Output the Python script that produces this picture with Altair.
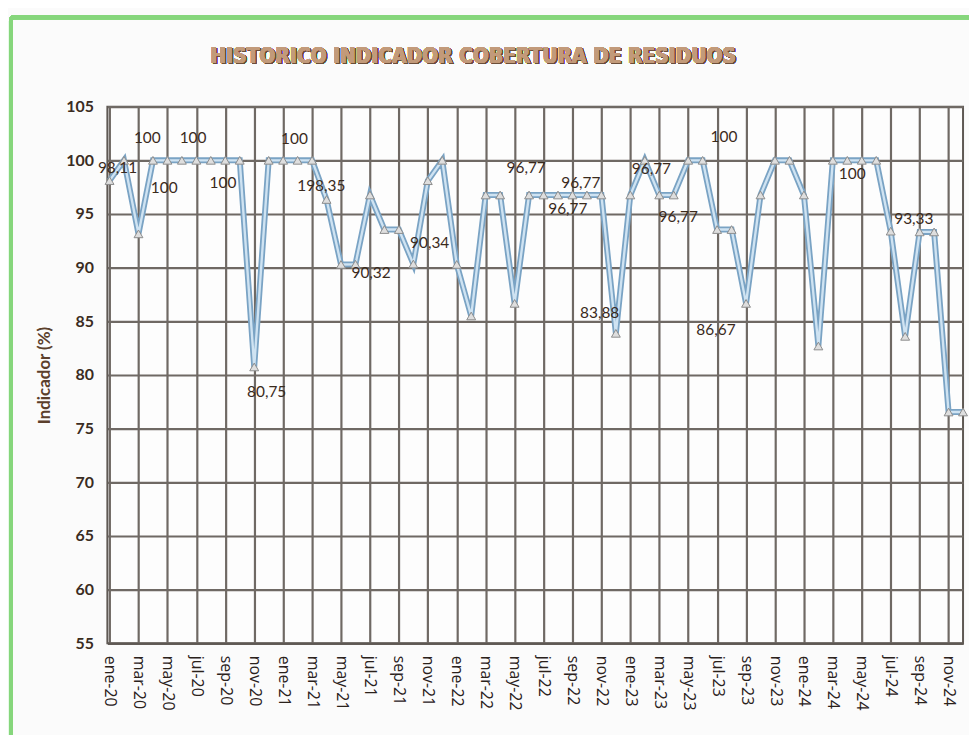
import altair as alt
import pandas as pd

mes = ["ene", "feb", "mar", "abr", "may", "jun", "jul", "ago", "sep", "oct", "nov", "dic"]
anios = ["20", "21", "22", "23", "24"]
meses = [f"{m}-{a}" for a in anios for m in mes]

valores = [
    98.11, 100, 93.15, 100, 100, 100, 100, 100, 100, 100, 80.75, 100,
    100, 100, 100, 96.35, 90.3, 90.32, 96.77, 93.55, 93.55, 90.34, 98.1, 100,
    90.3, 85.5, 96.77, 96.77, 86.67, 96.77, 96.77, 96.77, 96.77, 96.77, 96.77, 83.88,
    96.77, 100, 96.77, 96.77, 100, 100, 93.55, 93.55, 86.67, 96.77, 100, 100,
    96.77, 82.7, 100, 100, 100, 100, 93.4, 83.6, 93.33, 93.33, 76.55, 76.55,
]

etiqueta_texto = ["98,11", "100", "100", "100", "100", "100", "198,35", "90,32", "80,75", "90,34",
                  "96,77", "96,77", "96,77", "83,88", "96,77", "96,77", "100", "86,67", "100", "93,33"]
etiqueta_x = [0.55, 2.61, 5.77, 3.78, 7.84, 12.78, 14.64, 18.08, 10.86, 22.13,
              28.8, 32.58, 31.68, 33.88, 37.46, 39.31, 42.47, 41.92, 51.34, 55.6]
etiqueta_y = [99.26, 102.04, 102.04, 97.4, 97.87, 101.94, 97.6, 89.54, 78.43, 92.3,
              99.26, 97.87, 95.46, 85.74, 99.17, 94.72, 102.2, 84.17, 98.7, 94.54]

df = pd.DataFrame({"idx": list(range(len(meses))), "valor": valores})
df_lab = pd.DataFrame({"idx": etiqueta_x, "valor": etiqueta_y, "t": etiqueta_texto})

W, H = 861, 540
label_expr = "[" + ",".join(f"'{m}'" for m in meses) + "][round(datum.value)]"

xs = alt.Scale(domain=[-0.15, 59], nice=False, zero=False)
ys = alt.Scale(domain=[55, 105], nice=False, zero=False)

x_axis = alt.Axis(values=list(range(0, 60, 2)), labelExpr=label_expr, labelAngle=90,
                  labelFontSize=16, labelColor="#2a211b", labelFont="Open Sans", labelPadding=12,
                  ticks=False, title=None, grid=True, gridColor="#6f6964", gridWidth=2.2,
                  domainColor="#5e5853", domainWidth=2, labelOverlap=False, labelBound=False,
                  labelFlush=False)
y_axis = alt.Axis(values=list(range(55, 106, 5)), labelFontSize=16, labelFontWeight="bold",
                  labelColor="#3a2c22", labelFont="Lato", labelPadding=14, ticks=False,
                  title="Indicador (%)", titleFontSize=17, titleFont="Lato", titleColor="#5b3f2c",
                  titleFontWeight="bold", titlePadding=12, grid=True, gridColor="#6f6964",
                  gridWidth=2.2, domain=False, labelOverlap=False)

X = alt.X("idx:Q", scale=xs, axis=x_axis)
Y = alt.Y("valor:Q", scale=ys, axis=y_axis)

base = alt.Chart(df).encode(x=X, y=Y)

outer = base.mark_line(color="#7aa3c4", strokeWidth=6, strokeJoin="miter")
inner = base.mark_line(color="#cfe3f2", strokeWidth=2.4, strokeJoin="miter")
tri = base.mark_point(shape="triangle-up", filled=True, size=80, fill="#dedede",
                      stroke="#8c8c8c", strokeWidth=1, opacity=1)

labels = alt.Chart(df_lab).mark_text(font="Lato", fontSize=15.5, color="#3a2a1c",
                                     align="center", baseline="middle").encode(
    x=X, y=Y, text="t:N")

title_txt = "HISTORICO INDICADOR COBERTURA DE RESIDUOS"
tfont = "DejaVu Sans Condensed, Liberation Sans, sans-serif"
title_shadow = alt.Chart(df_lab).mark_text(
    text=title_txt, font=tfont, fontSize=21, fontWeight="bold", color="#6b4e3a",
    align="center", baseline="middle", clip=False).encode(x=alt.value(369.5), y=alt.value(-48.5))
title = alt.Chart(df_lab).mark_text(
    text=title_txt, font=tfont, fontSize=21, fontWeight="bold", color="#c29a7a",
    align="center", baseline="middle", clip=False).encode(x=alt.value(368), y=alt.value(-50))

frame = alt.Chart(df_lab).mark_rect(fill=None, stroke="#86d67c", strokeWidth=4,
                                    cornerRadius=3, clip=False).encode(
    x=alt.value(-97), x2=alt.value(W + 20), y=alt.value(-90), y2=alt.value(H + 96))

chart = alt.layer(frame, outer, inner, tri, labels, title_shadow, title).properties(
    width=W, height=H,
    autosize=alt.AutoSizeParams(type="none"),
    padding={"left": 100, "top": 97, "right": 6, "bottom": 90},
    background="#fbfbfb",
).configure_view(stroke="#5e5853", strokeWidth=2, fill="#fdfdfd")

chart.save("out.html", embed_options={"renderer": "svg", "actions": False})
